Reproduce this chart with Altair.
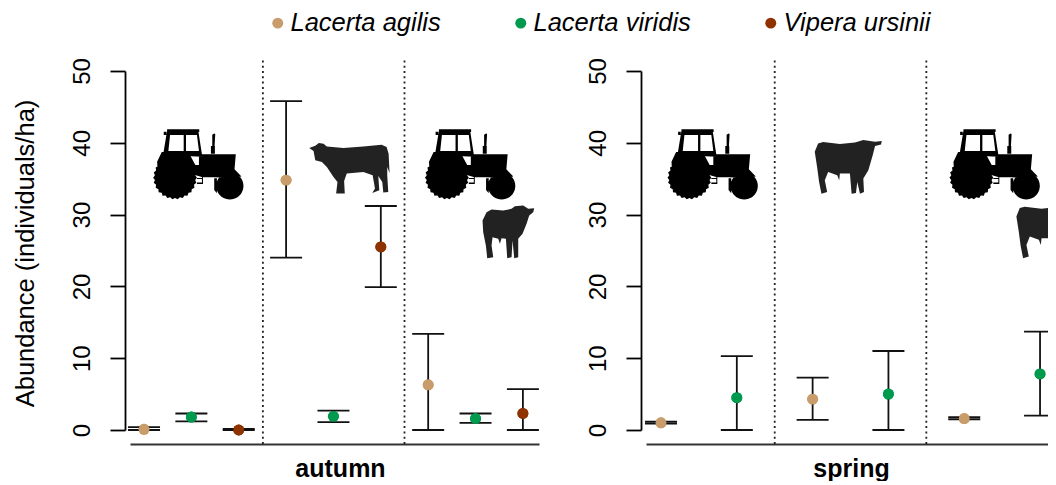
import altair as alt
import pandas as pd
import math

SPECIES = ["Lacerta agilis", "Lacerta viridis", "Vipera ursinii"]
COLORS = ["#C99C6B", "#009A4E", "#8E3200"]

# autumn
A_POS = [0, 1, 2, 3, 4, 5, 6, 7, 8]
A_SP = [0, 1, 2, 0, 1, 2, 0, 1, 2]
A_MEAN = [0.1, 1.8, 0.0, 34.8, 1.9, 25.5, 6.3, 1.6, 2.3]
A_LOW = [0.0, 1.2, 0.0, 24.0, 1.1, 19.9, 0.0, 1.0, 0.0]
A_HIGH = [0.4, 2.3, 0.15, 45.8, 2.7, 31.2, 13.4, 2.3, 5.7]
A_SEP = [2.51, 5.5]
# spring
S_POS = [0, 1, 2, 3, 4, 5]
S_SP = [0, 1, 0, 1, 0, 1]
S_MEAN = [1.0, 4.5, 4.3, 5.0, 1.6, 7.8]
S_LOW = [0.9, 0.0, 1.4, 0.0, 1.5, 2.0]
S_HIGH = [1.15, 10.3, 7.3, 11.0, 1.8, 13.7]
S_SEP = [1.5, 3.5]


def to_path(polys, cx, cy, half):
    out = []
    for p in polys:
        pts = [f"{(x - cx) / half:.3f},{(y - cy) / half:.3f}" for x, y in p]
        out.append("M" + "L".join(pts) + "Z")
    return "".join(out)


def wheel(cx, cy, r, teeth=0, d=0):
    n = teeth * 2 if teeth else 40
    pts = []
    for i in range(n):
        a = 2 * math.pi * i / n
        rr = r + (d if teeth and i % 2 == 0 else 0)
        pts.append((cx + rr * math.cos(a), cy + rr * math.sin(a)))
    return pts


TRACTOR = to_path([
    [(108, 57), (205, 57), (205, 66), (108, 66)],
    [(98, 65), (106, 65), (106, 75), (98, 75)],
    # cab, with windows wound the other way
    [(108, 62), (202, 62), (214, 140), (96, 135)],
    [(117, 75), (112, 123), (158, 123), (158, 75)],
    [(165, 75), (165, 123), (204, 123), (198, 75)],
    # fender
    [(78, 155), (92, 126), (172, 126), (196, 170), (190, 190), (80, 190)],
    # hood
    [(204, 133), (315, 133), (311, 178), (332, 200), (300, 205), (252, 202), (215, 202), (192, 195), (192, 165), (204, 165)],
    # exhaust
    [(240, 108), (252, 108), (252, 131), (240, 131)],
    [(244, 74), (250, 70), (253, 72), (251, 108), (244, 108)],
    # step
    [(198, 193), (216, 193), (216, 197), (198, 197)],
    [(198, 204), (216, 204), (216, 207), (198, 207)],
    [(198, 218), (216, 218), (216, 222), (198, 222)],
    [(213, 193), (216, 193), (216, 222), (213, 222)],
    # rear fender of front wheel
    [(250, 205), (258, 205), (258, 250), (250, 240)],
    wheel(132, 203, 61, 26, 5),
    wheel(297, 228, 41),
], 204, 163, 134)

COW_LEFT = to_path([[
    (537, 113), (555, 106), (566, 98), (580, 100), (590, 108), (640, 113), (700, 108), (755, 103),
    (770, 110), (776, 130), (779, 188), (772, 170), (772, 195), (775, 245), (760, 247), (757, 215),
    (745, 197), (748, 240), (727, 248), (735, 235), (728, 195), (700, 185), (650, 190), (642, 212),
    (644, 250), (618, 250), (622, 215), (610, 200), (590, 170), (575, 155), (555, 150), (550, 122),
]], 657, 175, 120.5)

COW_RIGHT = to_path([[
    (105, 125), (115, 100), (130, 96), (180, 102), (225, 97), (250, 90), (285, 95), (305, 93),
    (303, 103), (285, 108), (278, 135), (265, 180), (250, 205), (252, 245), (240, 250), (232, 215),
    (228, 248), (215, 250), (210, 190), (180, 190), (178, 210), (172, 195), (145, 185), (135, 210),
    (142, 245), (125, 250), (118, 215), (112, 170),
]], 205, 171, 100)

COW_TALL = to_path([[
    (38, 75), (50, 50), (65, 42), (100, 45), (125, 40), (135, 32), (160, 30), (175, 40), (193, 38),
    (190, 50), (178, 60), (170, 85), (158, 115), (145, 130), (145, 185), (133, 188), (128, 135),
    (125, 185), (112, 188), (108, 130), (95, 128), (90, 145), (85, 130), (68, 125), (65, 150),
    (70, 185), (52, 188), (48, 150), (40, 110),
]], 115, 109, 80)

FONT = "Liberation Sans"


def icon(path, px, vy, size, color, clip=False):
    d = pd.DataFrame({"x": [px], "y": [vy]})
    return alt.Chart(d).mark_point(shape=path, size=size, filled=True, fill=color, opacity=1, strokeWidth=0,
                                   clip=clip).encode(x="x:Q", y="y:Q")


def panel(pos, sp, mean, low, high, sep, domain, width, title, title_x, y_title, icons, clip_from=99):
    df = pd.DataFrame({"x": pos, "species": [SPECIES[i] for i in sp], "mean": mean, "low": low, "high": high})
    sep_df = pd.DataFrame({"x": sep, "y": [-1.95] * len(sep), "y2": [51.5] * len(sep)})
    x = alt.X("x:Q", scale=alt.Scale(domain=domain, nice=False, zero=False),
              axis=alt.Axis(offset=14, ticks=False, labels=False, grid=False, title=title, titleX=title_x,
                            titleFont=FONT, titleFontSize=25, titleFontWeight="bold", titleColor="black",
                            titlePadding=12, domainColor="#333333", domainWidth=2))
    y_axis = dict(values=[0, 10, 20, 30, 40, 50], offset=5, tickSize=15, tickWidth=1.8, tickColor="black",
                  domainColor="black", domainWidth=1.8, grid=False, labelAngle=270, labelAlign="center",
                  labelBaseline="bottom", labelFont=FONT, labelFontSize=24, labelColor="black", labelPadding=16)
    if y_title:
        y_axis.update(title=y_title, titleFont=FONT, titleFontSize=25.5, titleFontWeight="normal",
                      titleColor="black", titlePadding=32, titleY=182)
    else:
        y_axis.update(title=None)
    y_scale = alt.Scale(domain=[0, 50], nice=False)
    y = alt.Y("mean:Q", scale=y_scale, axis=alt.Axis(**y_axis))

    base = alt.Chart(df)
    seps = alt.Chart(sep_df).mark_rule(color="#222222", strokeWidth=1.8, strokeDash=[2, 3.3]).encode(
        x=x, y=alt.Y("y:Q", scale=y_scale, axis=alt.Axis(**y_axis)), y2="y2:Q")
    bars = base.mark_rule(color="#111111", strokeWidth=1.8).encode(x="x:Q", y=alt.Y("low:Q"), y2="high:Q")
    cap_layers = []
    for field in ["low", "high"]:
        for keep, clip in [(f"datum.x < {clip_from}", False), (f"datum.x >= {clip_from}", True)]:
            cap_layers.append(base.transform_filter(keep).mark_tick(
                orient="horizontal", size=32, thickness=1.8, color="#111111", opacity=1, clip=clip
            ).encode(x="x:Q", y=f"{field}:Q"))
    pts = base.mark_circle(size=120, opacity=1).encode(
        x=x, y=y,
        color=alt.Color("species:N", scale=alt.Scale(domain=SPECIES, range=COLORS),
                        legend=alt.Legend(orient="none", legendX=135, legendY=-61, direction="horizontal", title=None,
                                          symbolType="circle", symbolSize=120, labelFont=FONT, labelFontSize=25.5,
                                          labelFontStyle="italic", labelColor="black", columnPadding=67,
                                          labelOffset=0, columns=3, symbolStrokeWidth=0, labelLimit=300)))
    icons_layers = [icon(*i) for i in icons]
    return alt.layer(pts, seps, bars, *cap_layers, *icons_layers, pts).properties(width=width, height=359)


left = panel(A_POS, A_SP, A_MEAN, A_LOW, A_HIGH, A_SEP, [-0.296, 8.34], 409, "autumn", 210,
             "Abundance (individuals/ha)",
             [(TRACTOR, 1.16, 37.0, 7921, "#000000"), (TRACTOR, 6.90, 37.0, 7921, "#000000"),
              (COW_LEFT, 4.33, 36.4, 6400, "#222222"), (COW_TALL, 7.69, 27.6, 2844, "#222222")])
right = panel(S_POS, S_SP, S_MEAN, S_LOW, S_HIGH, S_SEP, [-0.198, 5.105], 402, "spring", 205, None,
              [(TRACTOR, 0.69, 37.0, 7921, "#000000"), (TRACTOR, 4.41, 37.0, 7921, "#000000"),
               (COW_RIGHT, 2.47, 36.6, 4489, "#222222"), (COW_RIGHT, 5.13, 27.6, 4489, "#222222", True)],
              clip_from=5)

chart = alt.hconcat(left, right, spacing=47).configure_view(stroke=None).properties(
    padding={"left": 5, "top": 2, "right": 0, "bottom": 0}, background="white")
chart.save("out.html", embed_options={"renderer": "svg", "actions": False})
